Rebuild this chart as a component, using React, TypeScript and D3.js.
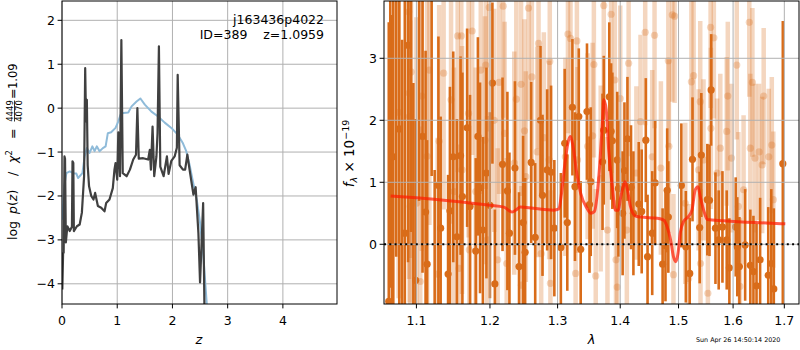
import React from 'react';
import * as d3 from 'd3';

const FONT = '"DejaVu Sans", sans-serif';

// ---------- Left panel: log p(z) ----------
const zPz = [0.006, 0.02, 0.03, 0.045, 0.055, 0.07, 0.097, 0.14, 0.18, 0.19, 0.205, 0.215, 0.27, 0.32, 0.36, 0.4, 0.42, 0.435, 0.45, 0.465, 0.49, 0.53, 0.57, 0.6, 0.65, 0.71, 0.77, 0.8, 0.86, 0.92, 0.95, 0.97, 1.0, 1.02, 1.05, 1.075, 1.1, 1.17, 1.23, 1.29, 1.34, 1.365, 1.39, 1.47, 1.56, 1.59, 1.61, 1.64, 1.67, 1.71, 1.73, 1.755, 1.78, 1.84, 1.9, 1.93, 1.98, 2.04, 2.08, 2.095, 2.13, 2.19, 2.23, 2.27, 2.31, 2.38, 2.42, 2.47, 2.5, 2.53, 2.556, 2.58];
const logPz = [-4.13, -3.3, -3.29, -1.1, -1.15, -3.06, -2.69, -2.8, -2.7, -1.21, -1.25, -2.8, -2.69, -2.65, -2.38, -1.55, 0.91, -0.3, 0.19, -1.3, -1.78, -2.0, -2.08, -1.93, -2.23, -2.27, -2.35, -2.16, -2.08, -1.82, -1.4, -1.25, -1.63, -0.55, -1.55, 1.55, -1.48, -1.55, -1.4, -1.17, -1.06, 0.0, -1.15, -1.14, -1.17, -0.95, -1.4, -0.42, -1.55, -1.1, -0.57, 1.41, -1.33, -1.55, -1.1, -1.5, -1.2, -1.1, -0.9, 0.76, -1.3, -1.4, -1.4, -1.06, -1.4, -1.97, -1.8, -2.84, -3.97, -3.0, -2.16, -4.6];

const zPrior = [0.006, 0.04, 0.08, 0.14, 0.2, 0.26, 0.29, 0.32, 0.37, 0.41, 0.45, 0.5, 0.55, 0.59, 0.63, 0.68, 0.74, 0.79, 0.83, 0.89, 0.97, 1.02, 1.06, 1.11, 1.2, 1.26, 1.35, 1.42, 1.5, 1.62, 1.74, 1.86, 1.98, 2.1, 2.19, 2.25, 2.31, 2.37, 2.44, 2.5, 2.56, 2.62, 2.63];
const logPrior = [-2.54, -1.78, -1.48, -1.44, -1.48, -1.49, -1.59, -1.55, -1.48, -1.1, -0.91, -1.02, -0.87, -0.98, -0.87, -0.98, -0.91, -0.87, -0.57, -0.55, -0.45, -0.3, -0.15, -0.11, -0.1, 0.04, 0.15, 0.22, 0.08, -0.08, -0.19, -0.33, -0.45, -0.61, -0.8, -0.98, -1.29, -1.67, -2.08, -2.61, -3.37, -4.43, -4.6];

const leftXTicks = [0, 1, 2, 3, 4];
const leftYTicks = [-4, -3, -2, -1, 0, 1, 2];

// ---------- Right panel: spectrum ----------
const waveDark = [1.0646, 1.0665, 1.0685, 1.0703, 1.074, 1.0779, 1.0815, 1.085, 1.0892, 1.093, 1.096, 1.099, 1.1035, 1.108, 1.112, 1.114, 1.12, 1.124, 1.129, 1.132, 1.142, 1.1445, 1.149, 1.154, 1.159, 1.1615, 1.168, 1.172, 1.18, 1.183, 1.186, 1.19, 1.195, 1.2, 1.2035, 1.207, 1.218, 1.225, 1.228, 1.236, 1.242, 1.248, 1.251, 1.26, 1.266, 1.274, 1.277, 1.284, 1.29, 1.295, 1.305, 1.311, 1.315, 1.323, 1.327, 1.333, 1.336, 1.346, 1.35, 1.352, 1.371, 1.373, 1.382, 1.385, 1.387, 1.395, 1.397, 1.404, 1.407, 1.412, 1.418, 1.422, 1.431, 1.436, 1.443, 1.446, 1.454, 1.459, 1.472, 1.477, 1.48, 1.482, 1.505, 1.513, 1.52, 1.525, 1.538, 1.541, 1.552, 1.556, 1.559, 1.567, 1.573, 1.58, 1.588, 1.593, 1.605, 1.608, 1.612, 1.623, 1.633, 1.639, 1.645, 1.652, 1.668, 1.674, 1.679, 1.697];
const fluxDark = [-0.92, 4.3, -1.3, 1.41, 4.6, 1.86, -1.2, 0.18, 3.21, 4.4, -1.4, -0.58, 4.2, 1.74, 0.52, -0.32, 4.1, -1.3, 0.95, 0.26, -0.48, 0.54, 1.41, 0.12, 1.43, 0.77, 1.88, 0.61, -0.11, 1.74, 0.91, 0.23, 1.15, 0.63, 2.6, -0.64, 1.29, 0.86, 0.18, 1.23, -0.36, 0.35, -0.13, 1.32, 0.11, 2.0, 0.79, 1.2, 1.16, 0.26, -0.05, 1.63, 0.35, 2.21, 0.93, 2.06, -0.08, 2.14, 0.64, 1.01, 1.33, 1.84, 2.38, 1.82, 1.67, 1.36, 0.9, 0.5, 1.19, 1.7, 0.92, 0.5, 0.65, 0.53, 1.68, -0.2, 0.18, 0.99, -0.32, -0.02, 0.87, 0.44, 0.95, -0.04, -0.47, 1.37, 0.27, 1.44, 0.72, 0.71, 2.49, 0.26, 0.07, 0.28, 0.07, -0.38, 0.28, -0.04, -0.36, -0.01, -0.34, -0.44, -0.67, -0.25, -0.5, -0.31, -0.72, 1.3];
const errDark = [4.5, 5, 5, 4, 4.8, 3.6, 4.5, 3.8, 3.5, 4.2, 4, 2.6, 3.5, 2.2, 2.6, 2.0, 3.0, 2.5, 2.4, 1.8, 1.6, 2.0, 1.7, 1.9, 1.6, 2.0, 1.6, 1.8, 1.5, 1.6, 1.7, 1.5, 1.7, 1.5, 1.3, 1.2, 1.4, 1.6, 1.3, 1.4, 1.2, 1.4, 1.2, 1.3, 1.2, 1.2, 1.3, 1.3, 1.4, 1.1, 1.2, 1.2, 1.1, 1.1, 1.2, 1.1, 1.1, 1.1, 1.1, 1.2, 1.1, 1.2, 1.2, 1.1, 1.1, 1.1, 1.1, 1.0, 1.1, 1.0, 1.0, 1.0, 1.0, 1.0, 1.0, 1.0, 1.0, 1.0, 0.9, 0.9, 1.0, 0.9, 1.0, 0.9, 0.9, 1.0, 0.9, 1.0, 0.9, 0.9, 0.9, 0.9, 0.8, 0.9, 0.8, 0.8, 0.8, 0.8, 0.8, 0.9, 0.9, 0.9, 1.0, 1.0, 1.1, 1.2, 1.3, 2.3];

const waveLight = [1.077, 1.09, 1.0905, 1.093, 1.091, 1.092, 1.107, 1.117, 1.1, 1.105, 1.114, 1.128, 1.13, 1.136, 1.146, 1.15, 1.155, 1.157, 1.16, 1.161, 1.17, 1.171, 1.175, 1.18, 1.187, 1.193, 1.194, 1.196, 1.199, 1.206, 1.211, 1.213, 1.219, 1.221, 1.224, 1.235, 1.238, 1.245, 1.2455, 1.25, 1.252, 1.256, 1.261, 1.269, 1.271, 1.275, 1.279, 1.287, 1.288, 1.289, 1.312, 1.316, 1.32, 1.328, 1.33, 1.331, 1.347, 1.355, 1.357, 1.36, 1.368, 1.373, 1.379, 1.385, 1.391, 1.393, 1.395, 1.4, 1.411, 1.414, 1.427, 1.434, 1.442, 1.454, 1.458, 1.469, 1.482, 1.483, 1.489, 1.491, 1.493, 1.512, 1.518, 1.523, 1.527, 1.536, 1.539, 1.5395, 1.545, 1.553, 1.558, 1.5585, 1.564, 1.57, 1.576, 1.588, 1.59, 1.597, 1.607, 1.61, 1.613, 1.62, 1.631, 1.633, 1.637, 1.642, 1.65, 1.656, 1.659, 1.669, 1.675, 1.678];
const fluxLight = [2.13, 3.75, 2.44, 2.78, 2.06, 0.61, 2.39, 2.81, 0.66, -0.6, 1.42, -0.48, 1.66, 2.76, 2.33, 0.85, 3.36, -0.39, 3.36, 1.2, 2.11, -0.09, 3.44, 0.85, 2.81, 1.68, 2.89, 0.07, 3.82, 2.0, -0.25, 2.61, 3.84, 1.79, -0.31, 1.31, 2.34, 2.58, -0.66, 1.83, 1.09, 3.81, 2.7, 1.49, 3.24, -0.15, 1.72, 1.36, 2.95, -0.63, 1.41, 3.39, 3.32, -0.47, 3.28, 1.36, 1.58, 1.75, 2.9, -0.51, 1.06, 3.85, 0.23, 3.71, 2.65, -0.25, -0.69, 2.35, 0.23, 2.92, 1.15, 1.98, 3.42, 1.41, 3.37, 1.23, 2.96, 1.58, 3.7, -0.49, 3.68, 0.66, -0.55, 2.62, 2.72, 1.2, 2.3, -0.31, 1.36, -0.79, 3.5, 1.87, 3.33, 1.15, 1.55, 1.82, 2.39, 1.39, 2.89, 0.61, -0.68, 0.88, 3.58, 1.55, 2.61, 1.39, 1.49, 1.28, 2.39, 1.41, 1.6, 0.72];
const errLight = [3, 3, 3, 3, 3, 3, 2.5, 2.5, 3, 2.5, 2.5, 2.2, 2.2, 2.2, 2, 2, 2.2, 2, 2.2, 2, 2, 2, 2, 2, 2, 2, 2, 2, 2, 1.8, 1.8, 1.8, 1.8, 1.8, 1.7, 1.8, 1.8, 1.8, 1.6, 1.8, 1.7, 1.8, 1.7, 1.7, 1.7, 1.6, 1.7, 1.6, 1.7, 1.5, 1.6, 1.6, 1.6, 1.5, 1.6, 1.5, 1.5, 1.5, 1.5, 1.4, 1.5, 1.6, 1.5, 1.6, 1.5, 1.4, 1.4, 1.5, 1.4, 1.5, 1.4, 1.4, 1.5, 1.4, 1.5, 1.4, 1.4, 1.4, 1.4, 1.3, 1.4, 1.3, 1.2, 1.3, 1.3, 1.3, 1.3, 1.2, 1.3, 1.2, 1.3, 1.3, 1.3, 1.2, 1.2, 1.2, 1.2, 1.2, 1.2, 1.2, 1.1, 1.2, 1.2, 1.2, 1.2, 1.2, 1.1, 1.1, 1.1, 1.1, 1.1, 1.1];

const waveModel = [1.067, 1.1, 1.146, 1.2, 1.22, 1.228, 1.232, 1.237, 1.244, 1.263, 1.294, 1.302, 1.306, 1.312, 1.317, 1.32, 1.324, 1.329, 1.336, 1.346, 1.352, 1.358, 1.362, 1.367, 1.371, 1.373, 1.377, 1.381, 1.387, 1.392, 1.397, 1.4, 1.405, 1.408, 1.412, 1.417, 1.425, 1.434, 1.462, 1.474, 1.48, 1.486, 1.491, 1.495, 1.499, 1.503, 1.509, 1.518, 1.524, 1.53, 1.535, 1.539, 1.547, 1.552, 1.582, 1.643, 1.702];
const fluxModel = [0.78, 0.75, 0.7, 0.63, 0.6, 0.54, 0.52, 0.55, 0.6, 0.58, 0.55, 0.57, 0.82, 1.36, 1.68, 1.74, 1.58, 1.2, 0.82, 0.58, 0.5, 0.53, 0.77, 1.36, 2.0, 2.33, 2.17, 1.52, 0.93, 0.55, 0.55, 0.72, 0.93, 1.01, 0.88, 0.61, 0.46, 0.44, 0.42, 0.39, 0.28, 0.07, -0.2, -0.28, -0.15, 0.18, 0.37, 0.45, 0.55, 0.88, 0.93, 0.77, 0.5, 0.4, 0.38, 0.35, 0.33];

const rightXTicks = [1.1, 1.2, 1.3, 1.4, 1.5, 1.6, 1.7];
const rightYTicks = [0, 1, 2, 3];

const ORANGE = '#d96c19';
const GRID = '#b0b0b0';

export default function App() {
  const L = { x0: 62, x1: 337, y0: 1, y1: 304 };
  const R = { x0: 384, x1: 799, y0: 1, y1: 304 };
  const xL = d3.scaleLinear().domain([0, 4.98]).range([L.x0, L.x1]);
  const yL = d3.scaleLinear().domain([-4.46, 2.44]).range([L.y1, L.y0]);
  const xR = d3.scaleLog().domain([1.0586, 1.7298]).range([R.x0, R.x1]);
  const yR = d3.scaleLinear().domain([-0.963, 3.924]).range([R.y1, R.y0]);

  const pzPath = d3.line<number>().x((d) => xL(d)).y((_, i) => yL(logPz[i]))(zPz) || '';
  const priorPath = d3.line<number>().x((d) => xL(d)).y((_, i) => yL(logPrior[i]))(zPrior) || '';
  const modelPath = d3.line<number>().x((d) => xR(d)).y((_, i) => yR(fluxModel[i])).curve(d3.curveMonotoneX)(waveModel) || '';

  const fmt = (v: number) => (v < 0 ? '\u2212' + Math.abs(v) : String(v));
  const tickFont = { fontFamily: FONT, fontSize: 12.5, fill: '#000' } as const;

  return (
    <svg width={800} height={350} style={{ position: 'absolute', left: 0, top: 0, background: '#fff' }} xmlns="http://www.w3.org/2000/svg">
      <defs>
        <clipPath id="clipL"><rect x={L.x0} y={L.y0} width={L.x1 - L.x0} height={L.y1 - L.y0} /></clipPath>
        <clipPath id="clipR"><rect x={R.x0} y={R.y0} width={R.x1 - R.x0} height={R.y1 - R.y0} /></clipPath>
      </defs>
      <rect x={0} y={0} width={800} height={350} fill="#fff" />

      {/* ---------- Left panel ---------- */}
      <g>
        {leftXTicks.map((t) => (
          <line key={'lgx' + t} x1={xL(t)} x2={xL(t)} y1={L.y0} y2={L.y1} stroke={GRID} strokeWidth={1} />
        ))}
        {leftYTicks.map((t) => (
          <line key={'lgy' + t} x1={L.x0} x2={L.x1} y1={yL(t)} y2={yL(t)} stroke={GRID} strokeWidth={1} />
        ))}
        <g clipPath="url(#clipL)">
          <path d={priorPath} fill="none" stroke="#8fbbd9" strokeWidth={2} strokeLinejoin="round" />
          <path d={pzPath} fill="none" stroke="#404040" strokeWidth={2.2} strokeLinejoin="round" />
        </g>
        <rect x={L.x0} y={L.y0} width={L.x1 - L.x0} height={L.y1 - L.y0} fill="none" stroke="#000" strokeWidth={1} />
        {leftXTicks.map((t) => (
          <g key={'ltx' + t}>
            <line x1={xL(t)} x2={xL(t)} y1={L.y1} y2={L.y1 + 4.4} stroke="#000" />
            <text x={xL(t)} y={325} textAnchor="middle" {...tickFont}>{fmt(t)}</text>
          </g>
        ))}
        {leftYTicks.map((t) => (
          <g key={'lty' + t}>
            <line x1={L.x0 - 4.4} x2={L.x0} y1={yL(t)} y2={yL(t)} stroke="#000" />
            <text x={L.x0 - 7} y={yL(t) + 4.5} textAnchor="end" {...tickFont}>{fmt(t)}</text>
          </g>
        ))}
        <text x={199} y={344} textAnchor="middle" fontFamily={FONT} fontSize={13} fontStyle="italic">z</text>
        <text x={324} y={23.5} textAnchor="end" fontFamily={FONT} fontSize={12.5}>j163436p4022</text>
        <text x={324} y={39} textAnchor="end" fontFamily={FONT} fontSize={12.5} style={{ whiteSpace: 'pre' }}>{'ID=389    z=1.0959'}</text>

        <g transform="translate(17,152) rotate(-90)" fontFamily={FONT} fontSize={12.5} fill="#000">
          <text x={-88} y={0}>log</text>
          <text x={-62} y={0}><tspan fontStyle="italic">p</tspan>(<tspan fontStyle="italic">z</tspan>)</text>
          <text x={-24} y={0}>/</text>
          <text x={-11} y={0} fontStyle="italic">χ</text>
          <text x={-3.5} y={-5} fontSize={8.5}>2</text>
          <text x={13} y={0}>=</text>
          <text x={41} y={-4.5} fontSize={8.5} textAnchor="middle">4449</text>
          <line x1={30.5} x2={51.5} y1={-2.5} y2={-2.5} stroke="#000" strokeWidth={0.8} />
          <text x={41} y={5} fontSize={8.5} textAnchor="middle">4070</text>
          <text x={53} y={0}>=</text>
          <text x={63} y={0} fontSize={11.5}>1.09</text>
        </g>
      </g>

      {/* ---------- Right panel ---------- */}
      <g>
        <g clipPath="url(#clipR)">
          {waveLight.map((w, i) => (
            <line key={'le' + i} x1={xR(w)} x2={xR(w)} y1={yR(fluxLight[i] - errLight[i])} y2={yR(fluxLight[i] + errLight[i])} stroke={ORANGE} strokeOpacity={0.28} strokeWidth={4.5} />
          ))}
          {waveLight.map((w, i) => (
            <circle key={'lm' + i} cx={xR(w)} cy={yR(fluxLight[i])} r={3.6} fill={ORANGE} fillOpacity={0.28} />
          ))}
          {waveDark.map((w, i) => (
            <line key={'de' + i} x1={xR(w)} x2={xR(w)} y1={yR(fluxDark[i] - errDark[i])} y2={yR(fluxDark[i] + errDark[i])} stroke={ORANGE} strokeWidth={2.6} />
          ))}
          {waveDark.map((w, i) => (
            <circle key={'dm' + i} cx={xR(w)} cy={yR(fluxDark[i])} r={3.6} fill={ORANGE} />
          ))}
          {rightXTicks.map((t) => (
            <line key={'rgx' + t} x1={xR(t)} x2={xR(t)} y1={R.y0} y2={R.y1} stroke={GRID} strokeWidth={1} />
          ))}
          {rightYTicks.map((t) => (
            <line key={'rgy' + t} x1={R.x0} x2={R.x1} y1={yR(t)} y2={yR(t)} stroke={GRID} strokeWidth={1} />
          ))}
          <line x1={R.x0} x2={R.x1} y1={yR(0)} y2={yR(0)} stroke="#000" strokeWidth={2} strokeDasharray="2,3.3" />
          <path d={modelPath} fill="none" stroke="#ff1a00" strokeOpacity={0.7} strokeWidth={3} strokeLinejoin="round" />
        </g>
        <rect x={R.x0} y={R.y0} width={R.x1 - R.x0} height={R.y1 - R.y0} fill="none" stroke="#000" strokeWidth={1} />
        {rightXTicks.map((t) => (
          <g key={'rtx' + t}>
            <line x1={xR(t)} x2={xR(t)} y1={R.y1} y2={R.y1 + 4.4} stroke="#000" />
            <text x={xR(t)} y={325} textAnchor="middle" {...tickFont}>{t.toFixed(1)}</text>
          </g>
        ))}
        {rightYTicks.map((t) => (
          <g key={'rty' + t}>
            <line x1={R.x0 - 4.4} x2={R.x0} y1={yR(t)} y2={yR(t)} stroke="#000" />
            <text x={R.x0 - 7} y={yR(t) + 4.5} textAnchor="end" {...tickFont}>{fmt(t)}</text>
          </g>
        ))}
        <text x={591.5} y={344} textAnchor="middle" fontFamily={FONT} fontSize={13} fontStyle="italic">λ</text>
        <g transform="translate(354,152) rotate(-90)" fontFamily={FONT} fontSize={13.5} fill="#000">
          <text x={-1.5} y={0} textAnchor="middle">
            <tspan fontStyle="italic">f</tspan>
            <tspan fontSize={9.5} dy={3} fontStyle="italic">λ</tspan>
            <tspan dy={-3}>{' \u00d7 10'}</tspan>
            <tspan fontSize={9.5} dy={-5.5}>{'\u221219'}</tspan>
          </text>
        </g>
        <text x={696} y={342} fontFamily={FONT} fontSize={6.4} fill="#000">Sun Apr 26 14:50:14 2020</text>
      </g>
    </svg>
  );
}
